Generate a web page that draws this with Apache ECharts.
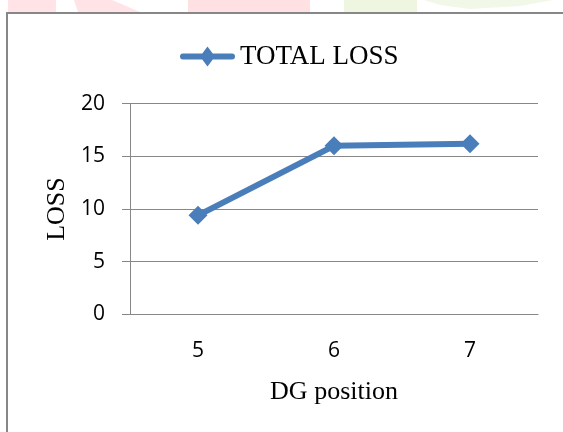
<!DOCTYPE html>
<html>
<head>
<meta charset="utf-8">
<script src="https://cdn.jsdelivr.net/npm/echarts@6/dist/echarts.min.js"></script>
<style>
  html, body { margin: 0; padding: 0; background: #ffffff; }
  #chart { width: 563px; height: 432px; }
</style>
</head>
<body>
<div id="chart"></div>
<script>
// DG position categories and total loss values
const positions = ['5', '6', '7'];
const totalLoss = [9.4, 16.0, 16.2];
const lossTicks = [0, 5, 10, 15, 20];
const seriesName = 'TOTAL LOSS';

const serif = '"Liberation Serif", "Times New Roman", serif';
const sans = '"Open Sans", "Liberation Sans", sans-serif';
const blue = '#4a7ebb';
const grey = '#878787';

// legend key: thick line with a diamond marker in the middle
const legendIcon = 'path://M3,7H52A3,3,0,0,1,52,13H3A3,3,0,0,1,3,7Z M27.5,0L35,10L27.5,20L20,10Z';

const chart = echarts.init(document.getElementById('chart'), null, { renderer: 'canvas' });

chart.setOption({
  backgroundColor: '#ffffff',
  animation: false,
  graphic: [
    // faint coloured strip along the top edge
    { type: 'polygon', silent: true, shape: { points: [[8, 0], [56, 0], [56, 12], [8, 12]] }, style: { fill: '#ffe3e6' } },
    { type: 'polygon', silent: true, shape: { points: [[74, 0], [112, 0], [140, 12], [78, 12]] }, style: { fill: '#ffe3e6' } },
    { type: 'polygon', silent: true, shape: { points: [[188, 0], [310, 0], [310, 12], [188, 12]] }, style: { fill: '#ffe1e4' } },
    { type: 'polygon', silent: true, shape: { points: [[344, 0], [417, 0], [417, 12], [344, 12]] }, style: { fill: '#eef6e2' } },
    { type: 'polygon', silent: true, shape: { points: [[424, 0], [553, 0], [520, 6], [470, 9], [440, 5]] }, style: { fill: '#f1f8e8' } },
    // chart frame, running off the right and bottom edges
    { type: 'rect', silent: true, shape: { x: 7, y: 13, width: 600, height: 460 }, style: { fill: null, stroke: grey, lineWidth: 2 } }
  ],
  legend: {
    top: 38,
    left: 175,
    itemWidth: 55,
    itemHeight: 20,
    itemGap: 4,
    textStyle: { fontFamily: serif, fontSize: 27, color: '#000000' },
    data: [{ name: seriesName, icon: legendIcon }]
  },
  grid: { left: 130, right: 25, top: 103.7, bottom: 117.7, containLabel: false },
  xAxis: {
    type: 'category',
    data: positions,
    boundaryGap: true,
    name: 'DG position',
    nameLocation: 'middle',
    nameGap: 65,
    nameTextStyle: { fontFamily: serif, fontSize: 26, color: '#000000' },
    axisLine: { show: true, lineStyle: { color: grey, width: 1 } },
    axisTick: { show: false },
    axisLabel: { margin: 26, fontFamily: sans, fontSize: 21, color: '#000000' },
    splitLine: { show: false }
  },
  yAxis: {
    type: 'value',
    min: lossTicks[0],
    max: lossTicks[lossTicks.length - 1],
    interval: lossTicks[1] - lossTicks[0],
    name: 'LOSS',
    nameLocation: 'middle',
    nameGap: 60,
    nameRotate: 90,
    nameTextStyle: { fontFamily: serif, fontSize: 26, color: '#000000' },
    axisLine: { show: true, lineStyle: { color: grey, width: 1 } },
    axisTick: { show: true, inside: false, length: 8, lineStyle: { color: grey, width: 1 } },
    axisLabel: { margin: 25, fontFamily: sans, fontSize: 21, color: '#000000' },
    splitLine: { show: true, lineStyle: { color: grey, width: 1 } }
  },
  series: [{
    name: seriesName,
    type: 'line',
    data: totalLoss,
    symbol: 'diamond',
    symbolSize: 19,
    showAllSymbol: true,
    lineStyle: { color: blue, width: 6 },
    itemStyle: { color: blue, borderWidth: 0 },
    emphasis: { disabled: true }
  }]
});
</script>
</body>
</html>
